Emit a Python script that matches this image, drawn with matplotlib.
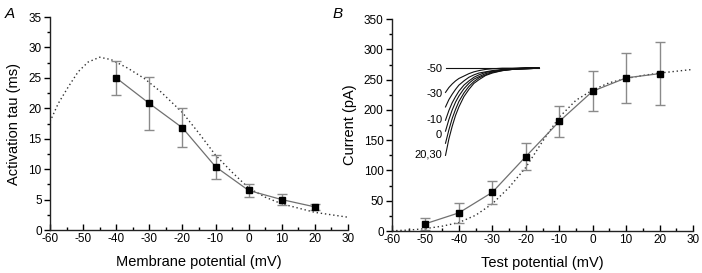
import matplotlib
matplotlib.use("Agg")
import matplotlib.pyplot as plt
from matplotlib.ticker import MultipleLocator

plt.rcParams['font.family'] = ['Liberation Sans', 'DejaVu Sans']
plt.rcParams['axes.unicode_minus'] = False

# Panel A data
a_v = [-40, -30, -20, -10, 0, 10, 20]
a_tau = [25.0, 20.8, 16.8, 10.4, 6.5, 5.0, 3.8]
a_err = [2.8, 4.4, 3.2, 2.0, 1.0, 0.95, 0.5]
a_fit_v = [-60, -57.5, -54.5, -51.5, -48.5, -45, -41.5, -36.5, -31.5, -26.5,
           -20, -15, -10, -5, 0, 5, 10, 15, 20, 25, 30]
a_fit_tau = [17.8, 20.8, 23.5, 26.0, 27.6, 28.4, 28.0, 26.6, 24.9, 22.7,
             19.3, 15.9, 12.3, 9.5, 6.9, 5.4, 4.3, 3.6, 2.9, 2.5, 2.1]

# Panel B data
b_v = [-50, -40, -30, -20, -10, 0, 10, 20]
b_i = [12, 30, 64, 123, 181, 231, 253, 260]
b_err = [10, 16, 19, 22, 26, 33, 41, 52]
b_fit_v = [-60, -55, -50, -45, -40, -35, -30, -25, -20, -15, -10, -5, 0, 5, 10, 15, 20, 25, 30]
b_fit_i = [0.5, 1.5, 4, 8, 14, 26, 45, 72, 105, 148, 188, 216, 233, 245, 252, 257, 261, 264, 267]

# Inset current traces (drawn in panel B coordinates)
trace_x = [-44, -43, -42, -41, -40, -38.5, -37, -35.5, -34, -32, -30, -27, -24, -20, -16]
trace_m50 = [270, 270, 270, 270, 270, 270, 270, 270, 270, 270, 270, 270, 270, 270, 270]
trace_m30 = [229, 237, 243, 248, 252, 256, 260, 263, 265, 267, 268, 269, 269, 270, 270]
trace_m20 = [205, 217, 226, 234, 241, 248, 254, 258, 261, 263, 265, 267, 268, 269, 269]
trace_m10 = [183, 199, 212, 222, 231, 241, 248, 254, 258, 262, 264, 266, 268, 269, 269]
trace_0 = [165, 184, 200, 213, 223, 235, 244, 251, 255, 260, 263, 266, 267, 268, 269]
trace_10 = [145, 167, 186, 201, 214, 228, 239, 247, 253, 258, 262, 265, 267, 268, 269]
trace_20 = [125, 152, 173, 191, 205, 222, 234, 244, 250, 257, 261, 265, 267, 268, 269]
trace_labels = ["-50", "-30", "-10", "0", "20,30"]
trace_label_y = [268, 226, 183, 158, 126]

fig = plt.figure(figsize=(7.02, 2.73), dpi=100)
axA = fig.add_axes([0.0712, 0.1575, 0.4245, 0.780])
axB = fig.add_axes([0.5584, 0.1538, 0.4288, 0.776])

gray = '#707070'
ecol = '#8a8a8a'


def style(ax):
    for s in ['top', 'right']:
        ax.spines[s].set_visible(False)
    for s in ['left', 'bottom']:
        ax.spines[s].set_linewidth(1.0)
        ax.spines[s].set_color('#222222')
    ax.xaxis.set_major_locator(MultipleLocator(10))
    ax.xaxis.set_minor_locator(MultipleLocator(5))
    ax.tick_params(axis='x', which='major', direction='in', length=4, width=1, labelsize=8.5, pad=2)
    ax.tick_params(axis='x', which='minor', direction='in', length=2.5, width=1)
    ax.tick_params(axis='y', which='major', direction='out', length=4, width=1, labelsize=8.5, pad=2)
    ax.tick_params(axis='y', which='minor', direction='out', length=2, width=1)
    ax.set_xlim(-60, 30)


# Panel A
style(axA)
axA.set_ylim(0, 35)
axA.yaxis.set_major_locator(MultipleLocator(5))
axA.yaxis.set_minor_locator(MultipleLocator(2.5))
axA.plot(a_fit_v, a_fit_tau, linestyle=(0, (1, 2)), color='#333333', lw=1.0)
axA.errorbar(a_v, a_tau, yerr=a_err, fmt='none', ecolor=ecol, elinewidth=1.0, capsize=3.8, capthick=1.0)
axA.plot(a_v, a_tau, '-', color=gray, lw=0.9)
axA.plot(a_v, a_tau, 's', color='black', ms=4.2)
axA.set_xlabel('Membrane potential (mV)', fontsize=10.5, labelpad=7)
axA.set_ylabel('Activation tau (ms)', fontsize=10.5, labelpad=5)
fig.text(0.007, 0.935, 'A', fontsize=11, fontstyle='italic')

# Panel B
style(axB)
axB.set_ylim(0, 350)
axB.yaxis.set_major_locator(MultipleLocator(50))
axB.yaxis.set_minor_locator(MultipleLocator(25))
axB.plot(b_fit_v, b_fit_i, linestyle=(0, (1, 2)), color='#333333', lw=1.0)
axB.errorbar(b_v, b_i, yerr=b_err, fmt='none', ecolor=ecol, elinewidth=1.0, capsize=3.8, capthick=1.0)
axB.plot(b_v, b_i, '-', color=gray, lw=0.9)
axB.plot(b_v, b_i, 's', color='black', ms=4.2)
axB.set_xlabel('Test potential (mV)', fontsize=10.5, labelpad=7)
axB.set_ylabel('Current (pA)', fontsize=10.5, labelpad=5)
fig.text(0.474, 0.935, 'B', fontsize=11, fontstyle='italic')

for tr in [trace_m50, trace_m30, trace_m20, trace_m10, trace_0, trace_10, trace_20]:
    axB.plot(trace_x, tr, '-', color='#111111', lw=0.8)
for lab, ly in zip(trace_labels, trace_label_y):
    axB.text(-45.0, ly, lab, fontsize=8, ha='right', va='center')

fig.savefig('out.png', dpi=100)
